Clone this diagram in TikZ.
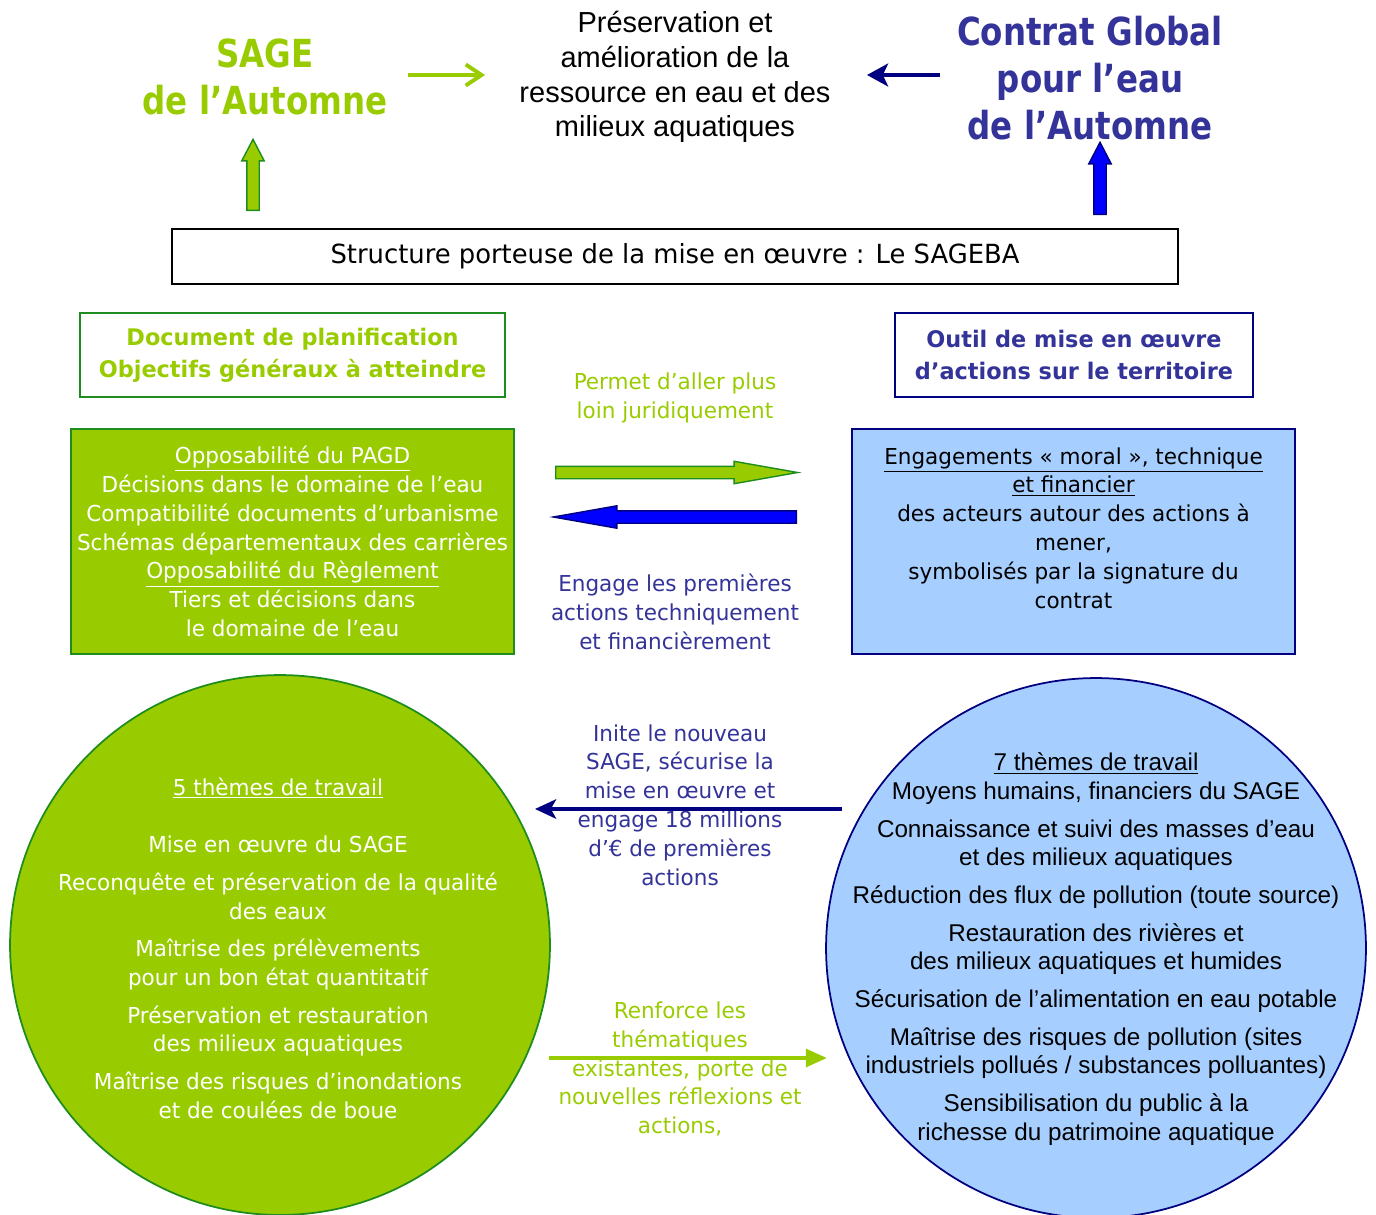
\documentclass[tikz,border=0pt]{standalone}
\usepackage{fontspec}
\setmainfont{Liberation Sans}
\newfontfamily\tahoma[FakeStretch=0.98]{DejaVu Sans}
\newfontfamily\tahomatitle[FakeStretch=0.84]{DejaVu Sans}
\usepackage{tikz}
\usetikzlibrary{shapes.arrows,arrows.meta}

\definecolor{sagegreen}{HTML}{99CC00}
\definecolor{darkgreen}{HTML}{1E8C1E}
\definecolor{contratblue}{HTML}{333399}
\definecolor{navyarrow}{HTML}{000080}
\definecolor{lightblue}{HTML}{A6CFFF}
\definecolor{brightblue}{HTML}{0000FF}

\tikzset{
  titletext/.style={font=\tahomatitle\bfseries\fontsize{22}{26.6}\selectfont,align=center},
  headtext/.style={font=\tahoma\bfseries\fontsize{13}{18}\selectfont,align=center},
  bodytext/.style={font=\tahoma\fontsize{12.5}{16.4}\selectfont,align=center},
  arialtext/.style={font=\fontsize{13.8}{16.4}\selectfont,align=center},
  framebox/.style={draw,line width=1pt,inner sep=0pt},
  blockarrow/.style={single arrow,anchor=tail,inner xsep=0pt,inner ysep=0.11cm,line width=0.8pt,
    minimum width=0.42cm,single arrow head extend=0.1cm},
  thinarrow/.style={line width=2.2pt}
}

\begin{document}
\begin{tikzpicture}[x=0.02cm,y=-0.02cm]
  \useasboundingbox (0,0) rectangle (1376,1214);

  % top row
  \node[titletext,text=sagegreen] (sage) at (265,77) {SAGE\\de l’Automne};
  \node[font=\fontsize{16.5}{19.8}\selectfont,align=center] (preserv) at (675,77)
    {Préservation et\\amélioration de la\\ressource en eau et des\\milieux aquatiques};
  \node[titletext,text=contratblue] (contrat) at (1090,78) {Contrat Global\\pour l’eau\\de l’Automne};

  \coordinate (sageout) at (408,75);
  \coordinate (preservin) at (485,75);
  \coordinate (contratout) at (940,75);
  \coordinate (preservinr) at (867,75);
  \draw[thinarrow,sagegreen,-{Straight Barb[length=9pt,width=12pt]}] (sageout) -- (preservin);
  \draw[thinarrow,navyarrow,-{Stealth[length=12pt,width=13pt,inset=3pt]}] (contratout) -- (preservinr);

  \node[blockarrow,rotate=90,draw=darkgreen,fill=sagegreen,minimum height=1.42cm,
    single arrow tip angle=55] (sageup) at (253,211) {};
  \node[blockarrow,rotate=90,draw=navyarrow,fill=brightblue,minimum height=1.44cm,
    single arrow tip angle=55] (contratup) at (1100,215) {};

  % structure porteuse
  \node[framebox,minimum width=20.12cm,minimum height=1.1cm,
    font=\tahoma\fontsize{15}{18}\selectfont] (sageba) at (675,256.5)
    {\raisebox{-2pt}{Structure porteuse de la mise en œuvre : Le SAGEBA}};

  % boxes
  \node[framebox,draw=darkgreen,text=sagegreen,headtext,minimum width=8.5cm,minimum height=1.68cm]
    (docplan) at (292.5,355) {Document de planification\\Objectifs généraux à atteindre};
  \node[framebox,draw=navyarrow,text=contratblue,headtext,minimum width=7.16cm,minimum height=1.68cm]
    (outil) at (1074,355) {Outil de mise en œuvre\\d’actions sur le territoire};

  \node[framebox,draw=darkgreen,fill=sagegreen,text=white,bodytext,minimum width=8.86cm,minimum height=4.5cm]
    (greenbox) at (292.5,541.5) {\underline{Opposabilité du PAGD}\\Décisions dans le domaine de l’eau\\
      Compatibilité documents d’urbanisme\\Schémas départementaux des carrières\\
      \underline{Opposabilité du Règlement}\\Tiers et décisions dans\\le domaine de l’eau};
  \node[framebox,draw=navyarrow,fill=lightblue,minimum width=8.86cm,minimum height=4.5cm]
    (bluebox) at (1073.5,541.5) {};
  \node[bodytext] (bluetext) at (1073.5,528) {\underline{Engagements « moral », technique}\\
      \underline{et financier}\\des acteurs autour des actions à\\mener,\\
      symbolisés par la signature du\\contrat};

  \node[bodytext,text=sagegreen] (permet) at (675,398) {Permet d’aller plus\\loin juridiquement};
  \node[blockarrow,draw=darkgreen,fill=sagegreen,minimum height=4.84cm,
    single arrow tip angle=20] (greenright) at (555,472.5) {};
  \node[blockarrow,rotate=180,draw=navyarrow,fill=brightblue,minimum height=4.86cm,
    single arrow tip angle=20] (blueleft) at (797,517) {};
  \node[bodytext,text=contratblue] (engage) at (675,612)
    {Engage les premières\\actions techniquement\\et financièrement};

  % circles
  \node[circle,draw=darkgreen,fill=sagegreen,line width=1pt,minimum size=10.8cm] (leftcircle) at (280,945) {};
  \node[circle,draw=navyarrow,fill=lightblue,line width=1pt,minimum size=10.8cm] (rightcircle) at (1096,948) {};

  \node[bodytext,text=white] (fivethemes) at (278,948) {\underline{5 thèmes de travail}\\[16.4pt]
      Mise en œuvre du SAGE\\[5pt]
      Reconquête et préservation de la qualité\\des eaux\\[5pt]
      Maîtrise des prélèvements\\pour un bon état quantitatif\\[5pt]
      Préservation et restauration\\des milieux aquatiques\\[5pt]
      Maîtrise des risques d’inondations\\et de coulées de boue};
  \node[arialtext] (seventhemes) at (1096,949) {\underline{7 thèmes de travail}\\
      Moyens humains, financiers du SAGE\\[5pt]
      Connaissance et suivi des masses d’eau\\et des milieux aquatiques\\[5pt]
      Réduction des flux de pollution (toute source)\\[5pt]
      Restauration des rivières et\\des milieux aquatiques et humides\\[5pt]
      Sécurisation de l’alimentation en eau potable\\[5pt]
      Maîtrise des risques de pollution (sites\\industriels pollués / substances polluantes)\\[5pt]
      Sensibilisation du public à la\\richesse du patrimoine aquatique};

  % links between circles
  \coordinate (rightout) at (842,809);
  \coordinate (leftin) at (535,809);
  \coordinate (leftout) at (549,1058);
  \coordinate (rightin) at (827,1058);
  \node[bodytext,text=contratblue] (inite) at (680,805) {Inite le nouveau\\SAGE, sécurise la\\
      mise en œuvre et\\engage 18 millions\\d’€ de premières\\actions};
  \draw[thinarrow,navyarrow,-{Stealth[length=12pt,width=11pt,inset=3pt]}] (rightout) -- (leftin);
  \node[bodytext,text=sagegreen] (renforce) at (680,1069) {Renforce les\\thématiques\\
      existantes, porte de\\nouvelles réflexions et\\actions,};
  \draw[thinarrow,sagegreen,-{Triangle[length=12pt,width=10pt]}] (leftout) -- (rightin);
\end{tikzpicture}
\end{document}
